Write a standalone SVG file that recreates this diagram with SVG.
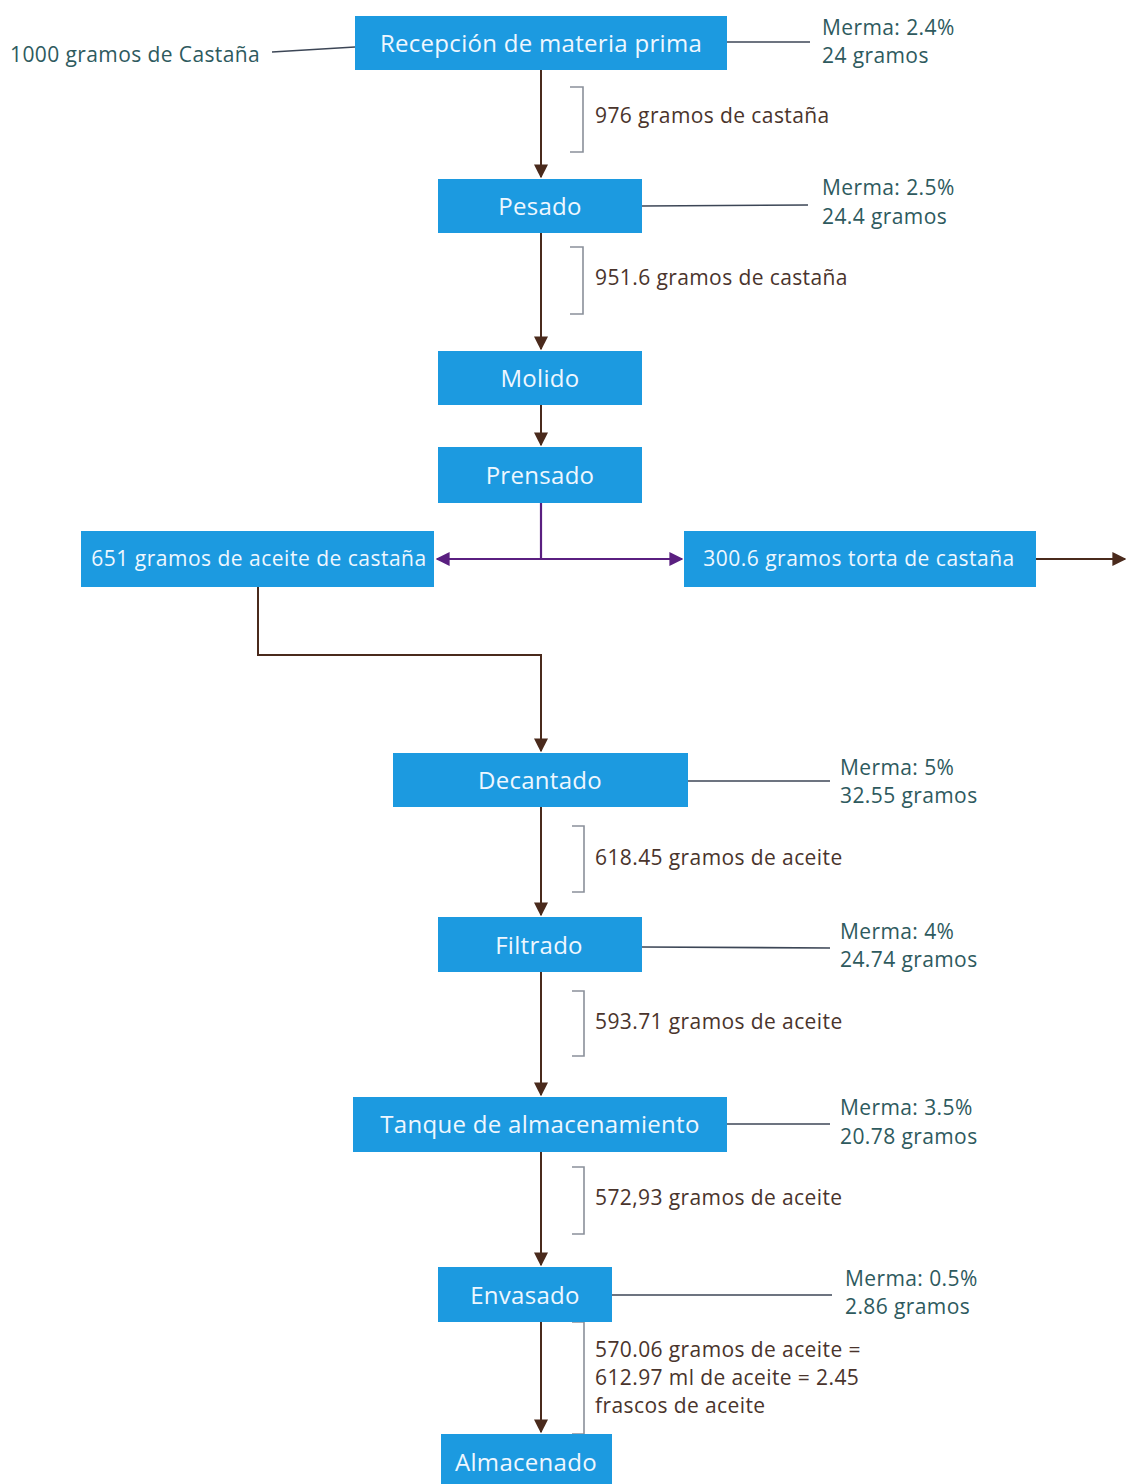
<svg xmlns="http://www.w3.org/2000/svg" width="1126" height="1484" viewBox="0 0 1126 1484">
  <style>
    .box { fill: #1c9ae0; }
    .boxtxt { font-family: "Open Sans", "Noto Sans", sans-serif; font-size: 24px; letter-spacing: 0.3px; fill: #eef7ff; text-anchor: middle; dominant-baseline: central; }
    .wide { font-size: 21px; letter-spacing: 0.5px; }
    .merma { font-family: "Open Sans", "Noto Sans", sans-serif; font-size: 21px; fill: #2e5a5e; letter-spacing: 0.4px; }
    .flow { font-family: "Open Sans", "Noto Sans", sans-serif; font-size: 21px; fill: #4a342c; letter-spacing: 0.4px; }
    .flowline { stroke: #4a2a1c; stroke-width: 2; fill: none; }
    .side { stroke: #3c4656; stroke-width: 1.6; fill: none; }
    .bracket { stroke: #8a909a; stroke-width: 1.6; fill: none; }
    .split { stroke: #5a1f80; stroke-width: 2.2; fill: none; }
  </style>
  <defs>
    <marker id="arrowBig" viewBox="0 0 10 10" refX="9" refY="5" markerWidth="14" markerHeight="14" markerUnits="userSpaceOnUse" orient="auto">
      <path d="M0,0 L10,5 L0,10 z" fill="#4a2a1c"/>
    </marker>
    <marker id="arrowP" viewBox="0 0 10 10" refX="9" refY="5" markerWidth="14" markerHeight="14" markerUnits="userSpaceOnUse" orient="auto-start-reverse">
      <path d="M0,0 L10,5 L0,10 z" fill="#5a1f80"/>
    </marker>
  </defs>

  <rect width="1126" height="1484" fill="#ffffff"/>

  <!-- connectors -->
  <g id="connectors">
    <!-- input and loss lines -->
    <path class="side" d="M272,52 L355,47"/>
    <path class="side" d="M727,42 L810,42"/>
    <path class="side" d="M642,206 L808,205"/>
    <path class="side" d="M688,781 L830,781"/>
    <path class="side" d="M642,947 L830,948"/>
    <path class="side" d="M727,1124 L830,1124"/>
    <path class="side" d="M612,1295 L832,1295"/>

    <!-- main flow -->
    <path class="flowline" d="M541,70 L541,177" marker-end="url(#arrowBig)"/>
    <path class="flowline" d="M541,233 L541,349" marker-end="url(#arrowBig)"/>
    <path class="flowline" d="M541,405 L541,445" marker-end="url(#arrowBig)"/>
    <path class="split" d="M541,503 L541,559"/>
    <path class="split" d="M541,559 L437,559" marker-end="url(#arrowP)"/>
    <path class="split" d="M541,559 L682,559" marker-end="url(#arrowP)"/>
    <path class="flowline" d="M1036,559 L1125,559" marker-end="url(#arrowBig)"/>
    <path class="flowline" d="M258,587 L258,655 L541,655 L541,751" marker-end="url(#arrowBig)"/>
    <path class="flowline" d="M541,807 L541,915" marker-end="url(#arrowBig)"/>
    <path class="flowline" d="M541,972 L541,1095" marker-end="url(#arrowBig)"/>
    <path class="flowline" d="M541,1152 L541,1265" marker-end="url(#arrowBig)"/>
    <path class="flowline" d="M541,1322 L541,1432" marker-end="url(#arrowBig)"/>

    <!-- brackets -->
    <path class="bracket" d="M570,87 L583,87 L583,152 L570,152"/>
    <path class="bracket" d="M570,247 L583,247 L583,314 L570,314"/>
    <path class="bracket" d="M572,826 L584,826 L584,892 L572,892"/>
    <path class="bracket" d="M572,991 L584,991 L584,1056 L572,1056"/>
    <path class="bracket" d="M572,1167 L584,1167 L584,1234 L572,1234"/>
    <path class="bracket" d="M572,1322 L584,1322 L584,1434 L572,1434"/>
  </g>

  <!-- labels -->
  <g id="labels">
    <text class="merma" x="10" y="62">1000 gramos de Castaña</text>
    <text class="merma" x="822" y="35">Merma: 2.4%</text>
    <text class="merma" x="822" y="63">24 gramos</text>
    <text class="flow" x="595" y="123">976 gramos de castaña</text>
    <text class="merma" x="822" y="195">Merma: 2.5%</text>
    <text class="merma" x="822" y="224">24.4 gramos</text>
    <text class="flow" x="595" y="285">951.6 gramos de castaña</text>
    <text class="merma" x="840" y="775">Merma: 5%</text>
    <text class="merma" x="840" y="803">32.55 gramos</text>
    <text class="flow" x="595" y="865">618.45 gramos de aceite</text>
    <text class="merma" x="840" y="939">Merma: 4%</text>
    <text class="merma" x="840" y="967">24.74 gramos</text>
    <text class="flow" x="595" y="1029">593.71 gramos de aceite</text>
    <text class="merma" x="840" y="1115">Merma: 3.5%</text>
    <text class="merma" x="840" y="1144">20.78 gramos</text>
    <text class="flow" x="595" y="1205">572,93 gramos de aceite</text>
    <text class="merma" x="845" y="1286">Merma: 0.5%</text>
    <text class="merma" x="845" y="1314">2.86 gramos</text>
    <text class="flow" x="595" y="1357">570.06 gramos de aceite =</text>
    <text class="flow" x="595" y="1385">612.97 ml de aceite = 2.45</text>
    <text class="flow" x="595" y="1413">frascos de aceite</text>
  </g>

  <!-- process nodes -->
  <g id="recepcion">
    <rect class="box" x="355" y="16" width="372" height="54"/>
    <text class="boxtxt" x="541" y="42">Recepción de materia prima</text>
  </g>
  <g id="pesado">
    <rect class="box" x="438" y="179" width="204" height="54"/>
    <text class="boxtxt" x="540" y="205">Pesado</text>
  </g>
  <g id="molido">
    <rect class="box" x="438" y="351" width="204" height="54"/>
    <text class="boxtxt" x="540" y="377">Molido</text>
  </g>
  <g id="prensado">
    <rect class="box" x="438" y="447" width="204" height="56"/>
    <text class="boxtxt" x="540" y="474">Prensado</text>
  </g>
  <g id="aceite">
    <rect class="box" x="81" y="531" width="353" height="56"/>
    <text class="boxtxt wide" x="259" y="558">651 gramos de aceite de castaña</text>
  </g>
  <g id="torta">
    <rect class="box" x="684" y="531" width="352" height="56"/>
    <text class="boxtxt wide" x="859" y="558">300.6 gramos torta de castaña</text>
  </g>
  <g id="decantado">
    <rect class="box" x="393" y="753" width="295" height="54"/>
    <text class="boxtxt" x="540" y="779">Decantado</text>
  </g>
  <g id="filtrado">
    <rect class="box" x="438" y="917" width="204" height="55"/>
    <text class="boxtxt" x="539" y="944">Filtrado</text>
  </g>
  <g id="tanque">
    <rect class="box" x="353" y="1097" width="374" height="55"/>
    <text class="boxtxt" x="540" y="1123">Tanque de almacenamiento</text>
  </g>
  <g id="envasado">
    <rect class="box" x="438" y="1267" width="174" height="55"/>
    <text class="boxtxt" x="525" y="1294">Envasado</text>
  </g>
  <g id="almacenado">
    <rect class="box" x="441" y="1434" width="171" height="50"/>
    <text class="boxtxt" x="526" y="1461">Almacenado</text>
  </g>
</svg>
